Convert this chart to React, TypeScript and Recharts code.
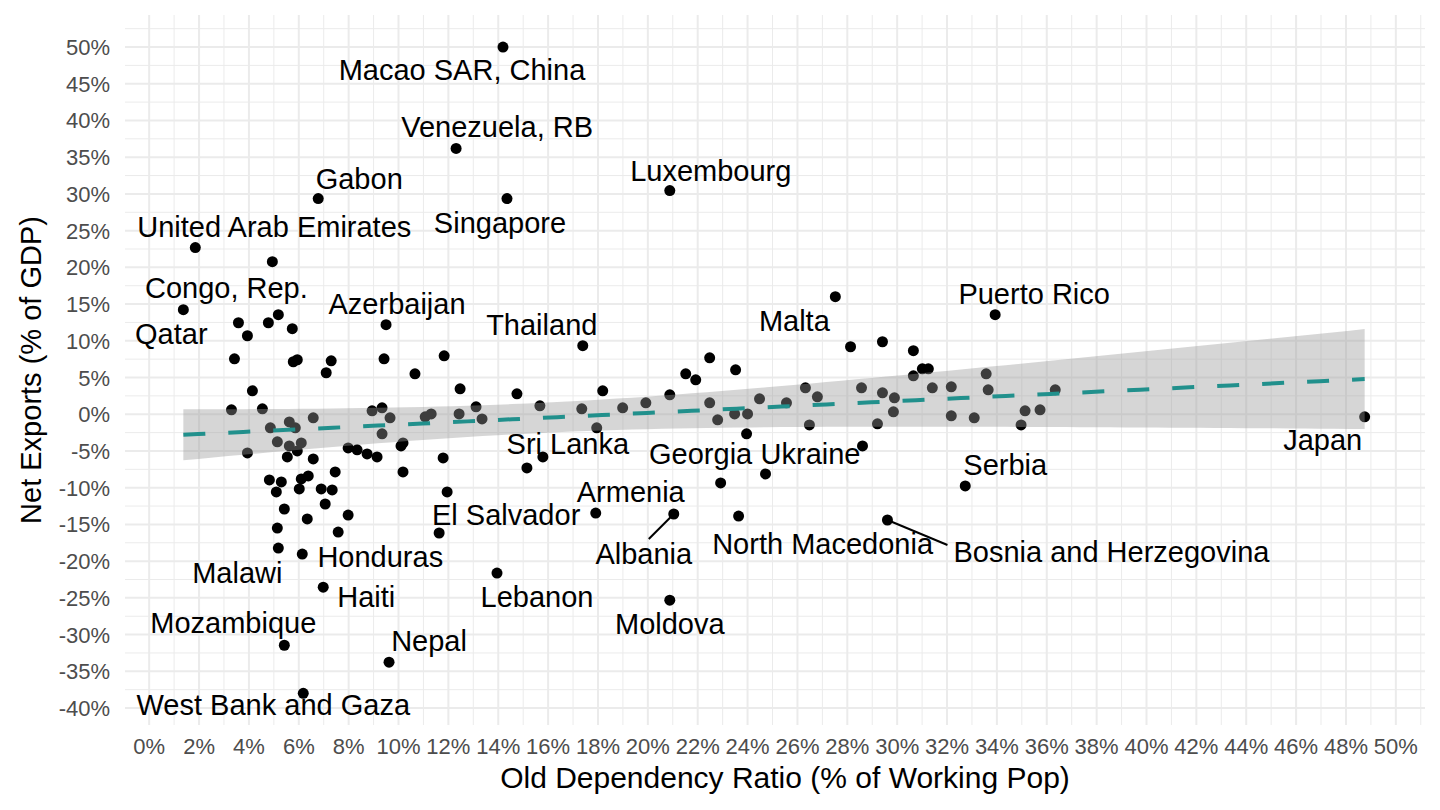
import { ComposedChart, Scatter, Area, Line, XAxis, YAxis, CartesianGrid } from 'recharts'

// labelled countries
const labelNames = [
  'Qatar', 'United Arab Emirates', 'Congo, Rep.', 'Malawi', 'Mozambique', 'Honduras',
  'West Bank and Gaza', 'Gabon', 'Haiti', 'Azerbaijan', 'Nepal', 'El Salvador',
  'Venezuela, RB', 'Lebanon', 'Macao SAR, China', 'Singapore', 'Sri Lanka', 'Thailand',
  'Armenia', 'Luxembourg', 'Moldova', 'Albania', 'Georgia', 'North Macedonia',
  'Ukraine', 'Malta', 'Bosnia and Herzegovina', 'Serbia', 'Puerto Rico', 'Japan',
]
const labelOldDep = [
  1.37, 1.85, 4.94, 5.18, 5.42, 6.14,
  6.18, 6.78, 6.98, 9.5, 9.62, 11.63,
  12.31, 13.95, 14.19, 14.35, 15.79, 17.39,
  17.91, 20.88, 20.88, 21.04, 22.92, 23.64,
  24.72, 27.52, 29.61, 32.73, 33.93, 48.75,
]
const labelNetExp = [
  14.24, 22.69, 20.78, -18.22, -31.45, -19.04,
  -37.99, 29.37, -23.54, 12.19, -33.76, -16.17,
  36.19, -21.63, 50.0, 29.37, -5.81, 9.33,
  -13.45, 30.46, -25.31, -13.58, -9.35, -13.86,
  -8.13, 16.01, -14.4, -9.76, 13.56, -0.35,
]

// the other countries (no label)
const otherOldDep = [
  3.3, 3.42, 3.58, 3.94, 3.94, 4.14, 4.54, 4.78, 4.82, 4.86,
  5.1, 5.14, 5.14, 5.18, 5.3, 5.42, 5.54, 5.62, 5.62, 5.74,
  5.78, 5.86, 5.94, 5.94, 6.02, 6.1, 6.1, 6.34, 6.38, 6.58,
  6.58, 6.9, 7.06, 7.1, 7.3, 7.34, 7.46, 7.58, 7.98, 7.98,
  8.34, 8.74, 8.94, 9.14, 9.34, 9.34, 9.42, 9.66, 10.1, 10.18,
  10.18, 10.66, 11.07, 11.31, 11.79, 11.83, 11.95, 12.43, 12.47, 13.11,
  13.35, 14.75, 15.15, 15.67, 17.35, 17.95, 18.19, 18.99, 19.92, 20.88,
  21.52, 21.92, 22.48, 22.48, 22.8, 23.48, 23.52, 23.96, 24.0, 24.48,
  25.56, 26.32, 26.48, 26.8, 28.13, 28.57, 28.61, 29.21, 29.41, 29.41,
  29.85, 29.89, 30.65, 30.65, 31.01, 31.25, 31.41, 32.17, 32.17, 33.09,
  33.57, 33.65, 34.97, 35.13, 35.73, 36.34,
]
const otherNetExp = [
  0.6, 7.55, 12.46, 10.69, -5.26, 3.19, 0.74, 12.46, -8.95, -1.85,
  -10.58, -3.76, -15.49, 13.56, -9.22, -12.9, -5.81, -1.04, -4.31, 11.65,
  7.15, -1.85, 7.42, -4.99, -10.17, -3.9, -8.81, -14.26, -8.4, -0.49,
  -6.08, -10.17, -12.22, 5.65, 7.28, -10.31, -7.85, -16.04, -4.58, -13.72,
  -4.85, -5.4, 0.46, -5.81, 0.87, -2.67, 7.55, -0.49, -4.31, -3.9,
  -7.85, 5.51, -0.35, 0.05, -5.95, 7.96, -10.58, 0.05, 3.46, 1.01,
  -0.63, 2.78, -7.31, 1.15, 0.74, -1.85, 3.19, 0.87, 1.55, 2.65,
  5.51, 4.69, 7.69, 1.55, -0.76, 0.05, 6.05, -2.67, 0.05, 2.1,
  1.55, 3.6, -1.45, 2.37, 9.19, 3.6, -4.31, -1.31, 9.87, 2.92,
  0.33, 2.24, 8.65, 5.24, 6.19, 6.19, 3.6, 3.74, -0.22, -0.49,
  5.51, 3.33, -1.45, 0.46, 0.6, 3.33,
]

const xTicks = [0, 2, 4, 6, 8, 10, 12, 14, 16, 18, 20, 22, 24, 26, 28, 30, 32, 34, 36, 38, 40, 42, 44, 46, 48, 50]
const yTicks = [-40, -35, -30, -25, -20, -15, -10, -5, 0, 5, 10, 15, 20, 25, 30, 35, 40, 45, 50]
const xMinor = [1, 3, 5, 7, 9, 11, 13, 15, 17, 19, 21, 23, 25, 27, 29, 31, 33, 35, 37, 39, 41, 43, 45, 47, 49, 51]
const yMinor = [-37.5, -32.5, -27.5, -22.5, -17.5, -12.5, -7.5, -2.5, 2.5, 7.5, 12.5, 17.5, 22.5, 27.5, 32.5, 37.5, 42.5, 47.5, 52.5]

// where each label sits, in pixels from its point (like ggrepel did)
const nudge: Record<string, { dx: number; dy: number; seg?: [number, number] }> = {
  'Qatar': { dx: -12, dy: 24 },
  'United Arab Emirates': { dx: 79, dy: -21 },
  'Congo, Rep.': { dx: -46, dy: 26 },
  'Malawi': { dx: -41, dy: 25 },
  'Mozambique': { dx: -51, dy: -22 },
  'Honduras': { dx: 78, dy: 3 },
  'West Bank and Gaza': { dx: -30, dy: 12 },
  'Gabon': { dx: 41, dy: -20 },
  'Haiti': { dx: 43, dy: 10 },
  'Azerbaijan': { dx: 11, dy: -21 },
  'Nepal': { dx: 40, dy: -21 },
  'El Salvador': { dx: 67, dy: -18 },
  'Venezuela, RB': { dx: 41, dy: -21 },
  'Lebanon': { dx: 40, dy: 24 },
  'Macao SAR, China': { dx: -41, dy: 23 },
  'Singapore': { dx: -7, dy: 24 },
  'Sri Lanka': { dx: 25, dy: -13 },
  'Thailand': { dx: -41, dy: -21 },
  'Armenia': { dx: 35, dy: -21 },
  'Luxembourg': { dx: 41, dy: -20 },
  'Moldova': { dx: 0, dy: 24 },
  'Albania': { dx: -30, dy: 40, seg: [-25, 25] },
  'Georgia': { dx: -20, dy: -29 },
  'North Macedonia': { dx: 84, dy: 28 },
  'Ukraine': { dx: 45, dy: -20 },
  'Malta': { dx: -41, dy: 24 },
  'Bosnia and Herzegovina': { dx: 224, dy: 32, seg: [60, 25] },
  'Serbia': { dx: 40, dy: -21 },
  'Puerto Rico': { dx: 39, dy: -21 },
  'Japan': { dx: -42, dy: 23 },
}

const font = '"Liberation Sans", Arial, Helvetica, sans-serif'

const labelled = labelNames.map((name, i) => ({ name, x: labelOldDep[i], y: labelNetExp[i] }))
const others = otherOldDep.map((x, i) => ({ x, y: otherNetExp[i] }))
const points = [...labelled, ...others]

// geom_smooth(method = 'lm'): OLS line with 95% confidence band
function lmBand(data: { x: number; y: number }[], steps = 80) {
  const n = data.length
  const mx = data.reduce((s, d) => s + d.x, 0) / n
  const my = data.reduce((s, d) => s + d.y, 0) / n
  let sxx = 0
  let sxy = 0
  data.forEach((d) => {
    sxx += (d.x - mx) ** 2
    sxy += (d.x - mx) * (d.y - my)
  })
  const b = sxy / sxx
  const a = my - b * mx
  const rss = data.reduce((s, d) => s + (d.y - a - b * d.x) ** 2, 0)
  const sigma = Math.sqrt(rss / (n - 2))
  const t = 1.978
  const xs = data.map((d) => d.x)
  const lo = Math.min(...xs)
  const hi = Math.max(...xs)
  return Array.from({ length: steps }, (_, i) => {
    const x = lo + ((hi - lo) * i) / (steps - 1)
    const fit = a + b * x
    const se = sigma * Math.sqrt(1 / n + (x - mx) ** 2 / sxx)
    return { x, y: fit, range: [fit - t * se, fit + t * se] }
  })
}

const band = lmBand(points)

const XTick = (props: any) => (
  <text x={props.x} y={props.y + 29} textAnchor="middle" fill="#4d4d4d" fontSize={22} fontFamily={font}>
    {props.payload.value}%
  </text>
)

const YTick = (props: any) => (
  <text x={props.x - 15} y={props.y + 8} textAnchor="end" fill="#4d4d4d" fontSize={22} fontFamily={font}>
    {props.payload.value}%
  </text>
)

const Dot = (props: any) => <circle cx={props.cx} cy={props.cy} r={5.5} fill="#000" />

const CountryLabel = (props: any) => {
  const n = nudge[props.payload.name]
  if (!n) return <g />
  return (
    <g>
      {n.seg && (
        <line
          x1={props.cx}
          y1={props.cy}
          x2={props.cx + n.seg[0]}
          y2={props.cy + n.seg[1]}
          stroke="#000"
          strokeWidth={2}
        />
      )}
      <text
        x={props.cx + n.dx}
        y={props.cy + n.dy}
        textAnchor="middle"
        dominantBaseline="central"
        fontSize={29}
        fontFamily={font}
        fill="#000"
      >
        {props.payload.name}
      </text>
    </g>
  )
}

export default function App() {
  return (
    <div style={{ position: 'absolute', left: 0, top: 0, width: 1440, height: 810, background: '#fff' }}>
      <ComposedChart width={1440} height={810} margin={{ top: 15, right: 15, bottom: 0, left: 0 }}>
        <CartesianGrid horizontalValues={yMinor} verticalValues={xMinor} stroke="#ebebeb" strokeWidth={1} />
        <CartesianGrid horizontalValues={yTicks} verticalValues={xTicks} stroke="#ebebeb" strokeWidth={2} />
        <XAxis
          type="number"
          dataKey="x"
          domain={[-0.97, 51.17]}
          allowDataOverflow
          ticks={xTicks}
          interval={0}
          axisLine={false}
          tickLine={false}
          tickSize={0}
          tickMargin={0}
          height={85}
          tick={XTick}
          label={{
            value: 'Old Dependency Ratio (% of Working Pop)',
            position: 'insideBottom',
            offset: 22,
            dx: 10,
            style: { fontSize: 30, fontFamily: font, fill: '#000' },
          }}
        />
        <YAxis
          type="number"
          dataKey="y"
          domain={[-42.31, 54.36]}
          allowDataOverflow
          ticks={yTicks}
          interval={0}
          axisLine={false}
          tickLine={false}
          tickSize={0}
          tickMargin={0}
          width={125}
          tick={YTick}
          label={{
            value: 'Net Exports (% of GDP)',
            angle: -90,
            position: 'insideLeft',
            offset: 31,
            style: { textAnchor: 'middle', fontSize: 29, fontFamily: font, fill: '#000' },
          }}
        />
        <Scatter data={points} shape={Dot} zIndex={50} isAnimationActive={false} />
        <Area
          data={band}
          dataKey="range"
          type="linear"
          stroke="none"
          fill="#999999"
          fillOpacity={0.4}
          isAnimationActive={false}
        />
        <Line
          data={band}
          dataKey="y"
          type="linear"
          stroke="#21908C"
          strokeWidth={4}
          strokeDasharray="22 23"
          dot={false}
          activeDot={false}
          isAnimationActive={false}
        />
        <Scatter data={labelled} shape={CountryLabel} isAnimationActive={false} />
      </ComposedChart>
    </div>
  )
}
